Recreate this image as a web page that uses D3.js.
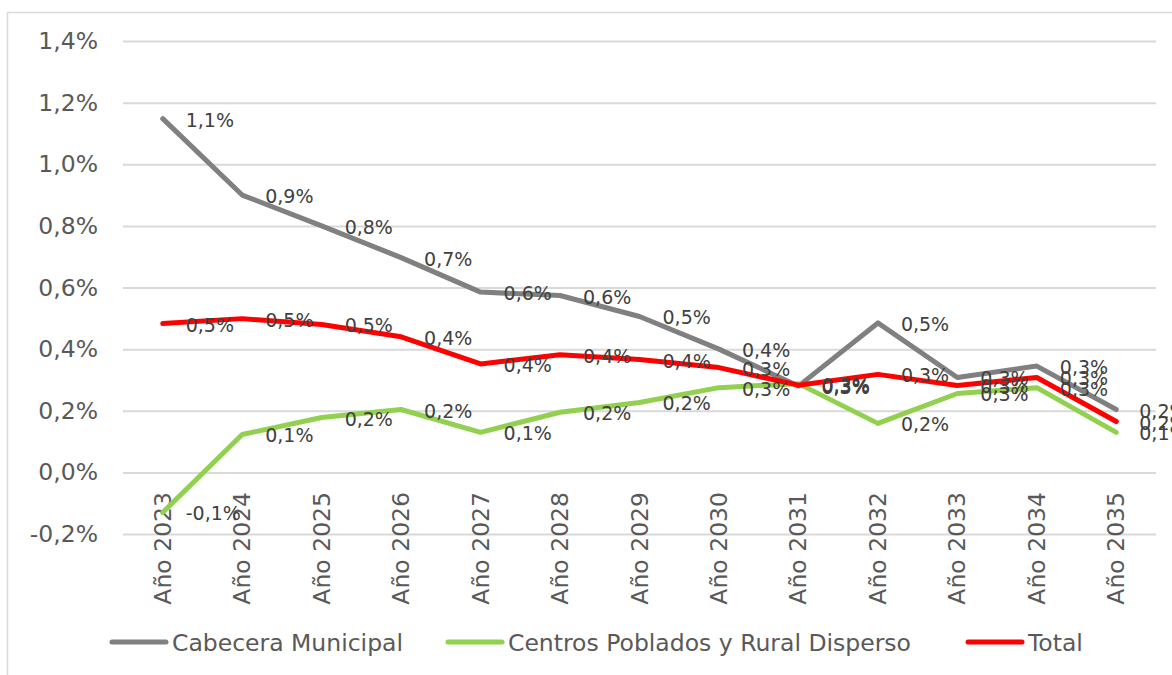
<!DOCTYPE html>
<html>
<head>
<meta charset="UTF-8">
<script src="https://cdn.jsdelivr.net/npm/d3@7"></script>
<style>
  body { margin: 0; background: #ffffff; }
  svg { display: block; font-family: "DejaVu Sans", Verdana, sans-serif; }
</style>
</head>
<body>
<svg width="1172" height="675"></svg>
<script>
// categories and series (percent)
const years = ["Año 2023", "Año 2024", "Año 2025", "Año 2026", "Año 2027", "Año 2028", "Año 2029",
  "Año 2030", "Año 2031", "Año 2032", "Año 2033", "Año 2034", "Año 2035"];
const cabecera = [1.148, 0.90, 0.80, 0.697, 0.585, 0.574, 0.506, 0.40, 0.28, 0.485, 0.308, 0.345, 0.204];
const centros = [-0.13, 0.123, 0.178, 0.204, 0.13, 0.195, 0.227, 0.275, 0.288, 0.159, 0.256, 0.275, 0.13];
const total = [0.483, 0.499, 0.48, 0.44, 0.352, 0.382, 0.366, 0.34, 0.283, 0.318, 0.282, 0.308, 0.165];
const yTicks = [-0.2, 0, 0.2, 0.4, 0.6, 0.8, 1.0, 1.2, 1.4];

const series = [
  { name: "Cabecera Municipal", values: cabecera, color: "#808080" },
  { name: "Centros Poblados y Rural Disperso", values: centros, color: "#92d050" },
  { name: "Total", values: total, color: "#ff0000" }
];

const locale = d3.formatLocale({ decimal: ",", thousands: ".", grouping: [3], currency: ["", ""], minus: "-" });
const f1 = locale.format(".1f");
const pct = v => f1(v) + "%";

const svg = d3.select("svg");
const plotL = 123, plotR = 1156, plotT = 41, plotB = 534;

// chart border
svg.append("rect")
  .attr("x", 7.5).attr("y", 12.5).attr("width", 1200).attr("height", 700)
  .attr("fill", "none").attr("stroke", "#d9d9d9").attr("stroke-width", 1.5);

const x = d3.scaleBand().domain(years).range([plotL, plotR]);
const cx = d => x(d) + x.bandwidth() / 2;
const y = d3.scaleLinear().domain([-0.2, 1.4]).range([plotB, plotT]);

// y axis + gridlines
const yAxis = svg.append("g")
  .attr("transform", `translate(${plotL},0)`)
  .call(d3.axisLeft(y).tickValues(yTicks).tickFormat(pct).tickSizeInner(-(plotR - plotL)).tickSizeOuter(0).tickPadding(25));
yAxis.select(".domain").remove();
yAxis.selectAll(".tick line").attr("stroke", "#d9d9d9").attr("stroke-width", 2);
yAxis.selectAll(".tick text").attr("fill", "#595959").attr("font-size", 23.5)
  .attr("font-family", "DejaVu Sans, Verdana, sans-serif");

// x labels rotated
const xAxis = svg.append("g")
  .attr("transform", `translate(0,${plotB})`)
  .call(d3.axisBottom(x).tickSize(0).tickFormat(d => d));
xAxis.select(".domain").remove();
xAxis.selectAll(".tick text")
  .attr("fill", "#595959").attr("font-size", 23.5)
  .attr("font-family", "DejaVu Sans, Verdana, sans-serif")
  .attr("text-anchor", "end")
  .attr("dy", null).attr("y", null)
  .attr("dominant-baseline", "central")
  .attr("transform", `translate(0,${492 - plotB}) rotate(-90)`);

// lines
const line = d3.line().x((d, i) => cx(years[i])).y(d => y(d));
series.forEach(s => {
  svg.append("path")
    .datum(s.values)
    .attr("d", line)
    .attr("fill", "none")
    .attr("stroke", s.color)
    .attr("stroke-width", 5)
    .attr("stroke-linejoin", "round")
    .attr("stroke-linecap", "round");
});

// data labels
series.forEach(s => {
  svg.append("g").selectAll("text")
    .data(s.values)
    .join("text")
    .attr("x", (d, i) => cx(years[i]) + 23)
    .attr("y", d => y(d) + 1)
    .attr("dominant-baseline", "central")
    .attr("font-size", 19)
    .attr("fill", "#404040")
    .text(d => pct(d));
});

// legend
const legendPos = [112, 448, 968];
series.forEach((s, i) => {
  const g = svg.append("g").attr("transform", `translate(${legendPos[i]},642)`);
  g.append("line").attr("x1", 0).attr("x2", 54).attr("y1", 0).attr("y2", 0)
    .attr("stroke", s.color).attr("stroke-width", 5).attr("stroke-linecap", "round");
  g.append("text").attr("x", 60).attr("y", 1).attr("dominant-baseline", "central")
    .attr("font-size", 23.5).attr("fill", "#595959").text(s.name);
});
</script>
</body>
</html>
